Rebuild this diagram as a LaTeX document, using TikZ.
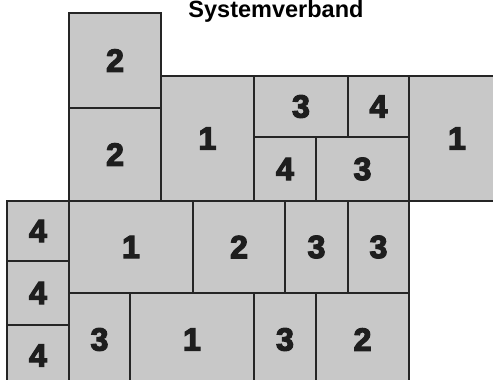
\documentclass[tikz,border=0pt]{standalone}
\usepackage{fontspec}
\newfontfamily\digfont[FakeBold=4]{Liberation Sans Bold}
\newfontfamily\titlefont{Liberation Sans Bold}
\definecolor{cellgray}{HTML}{C8C8C8}
\definecolor{edgegray}{HTML}{252525}
\definecolor{digitblack}{HTML}{1E1E1E}
\tikzset{
  cell/.style={draw=edgegray, fill=cellgray, line width=2pt, inner sep=0pt,
    text=digitblack, font=\digfont\fontsize{32}{33}\selectfont},
  titlestyle/.style={font=\titlefont\fontsize{23.5}{26}\selectfont, anchor=base, inner sep=0pt}
}
\newcommand\cellbox[6]{%
  \pgfmathsetmacro\cw{#4-#2}\pgfmathsetmacro\ch{#5-#3}%
  \node[cell, minimum width=\cw pt, minimum height=\ch pt] (#1) at ({(#2+#4)/2},{(#3+#5)/2}) {#6};}
\begin{document}
\begin{tikzpicture}[x=1pt,y=-1pt]
\useasboundingbox (0,0) rectangle (493,380);
\clip (0,0) rectangle (493,380);
\cellbox{a}{69}{13}{161}{108}{2}
\cellbox{b}{69}{108}{161}{201}{2}
\cellbox{c}{161}{76}{254}{201}{1}
\cellbox{d}{254}{76}{348}{137}{3}
\cellbox{e}{348}{76}{409}{137}{4}
\cellbox{f}{254}{137}{316}{201}{4}
\cellbox{g}{316}{137}{409}{201}{3}
\cellbox{h}{409}{76}{505}{201}{1}
\cellbox{l1}{7}{201}{69}{261}{4}
\cellbox{i}{69}{201}{193}{293}{1}
\cellbox{j}{193}{201}{285}{293}{2}
\cellbox{k}{285}{201}{348}{293}{3}
\cellbox{m}{348}{201}{409}{293}{3}
\cellbox{l2}{7}{261}{69}{325}{4}
\cellbox{l3}{7}{325}{69}{386}{4}
\cellbox{n}{69}{293}{130}{386}{3}
\cellbox{o}{130}{293}{254}{386}{1}
\cellbox{p}{254}{293}{316}{386}{3}
\cellbox{q}{316}{293}{409}{386}{2}
\node[titlestyle] (title) at (276,17.5) {Systemverband};
\end{tikzpicture}
\end{document}
